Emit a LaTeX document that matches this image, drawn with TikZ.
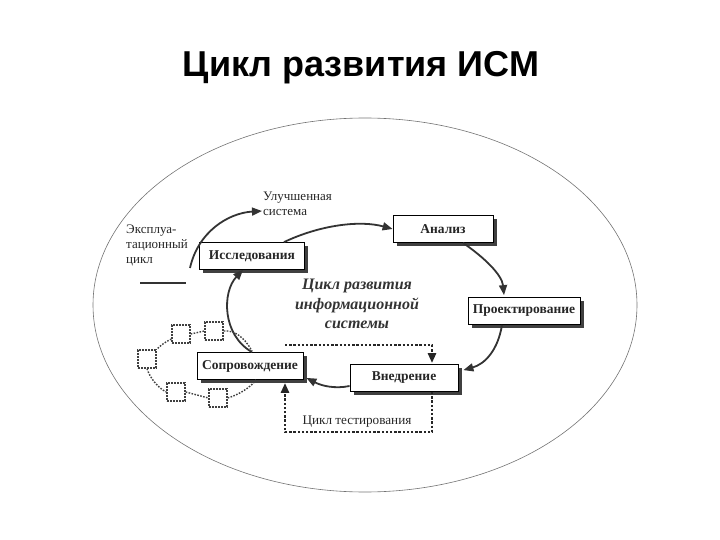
\documentclass[tikz,border=0pt]{standalone}
\usepackage{fontspec}
\setmainfont{Liberation Serif}
\newfontfamily\titlefont{Liberation Sans}
\usetikzlibrary{arrows.meta,shadows,calc}
\begin{document}
\begin{tikzpicture}[x=1pt,y=-1pt,
  stagebox/.style={draw=black,line width=0.8pt,fill=white,minimum height=27pt,
    inner sep=2pt,font=\bfseries\fontsize{13.5}{15}\selectfont,text=black!85,
    drop shadow={shadow xshift=3.5pt,shadow yshift=-3.5pt,fill=black!75,opacity=1}},
  arr/.style={draw=black!80,line width=1.8pt,-{Triangle[length=10pt,width=8pt]}},
  dotarr/.style={draw=black!85,line width=2.6pt,dash pattern=on 2.4pt off 1.8pt,
    -{Triangle[length=10pt,width=8pt]}},
  sq/.style={draw=black!75,line width=1.4pt,dash pattern=on 1.6pt off 1.4pt,
    minimum size=18pt,inner sep=0pt},
  thin dot/.style={draw=black!75,line width=1.4pt,dash pattern=on 1.6pt off 1.4pt},
  small/.style={font=\fontsize{13}{15}\selectfont,text=black!85}
]
\useasboundingbox (0,0) rectangle (720,540);
% title
\node[font=\titlefont\bfseries\fontsize{36}{40}\selectfont] (title) at (361,68) {Цикл развития ИСМ};
% outer ellipse
\draw[black!55,line width=0.6pt] (365,305) ellipse [x radius=272pt,y radius=187pt];
% stages
\node[stagebox,minimum width=105pt] (iss) at (252,256) {Исследования};
\node[stagebox,minimum width=100pt] (an) at (443,229) {Анализ};
\node[stagebox,minimum width=112pt] (pr) at (524,311) {Проектирование};
\node[stagebox,minimum width=108pt] (vn) at (404,378) {Внедрение};
\node[stagebox,minimum width=106pt] (sop) at (250,366) {Сопровождение};
% labels
\node[small,align=left,anchor=west,inner sep=0pt] (ulu) at (263,204) {Улучшенная\\система};
\node[small,align=left,anchor=west,inner sep=0pt] (ekspl) at (126,245) {Эксплуа-\\тационный\\цикл};
\coordinate (l1) at (140,283);
\coordinate (l2) at (186,283);
\draw[black!80,line width=1.6pt] (l1) -- (l2);
\node[font=\bfseries\itshape\fontsize{16}{19.5}\selectfont,align=center,text=black!80] (center) at (357,304)
  {Цикл развития\\информационной\\системы};
\node[font=\fontsize{13.2}{15}\selectfont,text=black!85] (test) at (357,422) {Цикл тестирования};
% main cycle arrows
\coordinate (e1) at (190,268);
\draw[arr] (e1) .. controls (198,232) and (228,213) .. ($(ulu.west)+(-1,7)$);
\draw[arr] ($(iss.north)+(32,0)$) .. controls (320,225) and (360,220) .. (an.west);
\draw[arr] ($(an.south)+(20,0)$) .. controls (485,258) and (502,275) .. ($(pr.north)+(-20,-2)$);
\draw[arr] ($(pr.south)+(-22,0)$) .. controls (498,350) and (485,364) .. ($(vn.north east)+(5,6)$);
\draw[arr] ($(vn.west)+(0,8)$) .. controls (335,389) and (322,386) .. ($(sop.south east)+(3,-2)$);
\draw[arr] ($(sop.north)+(2,0)$) .. controls (222,335) and (222,292) .. ($(iss.south)+(-9,0)$);
% testing cycle
\coordinate (t1) at (285,345);
\coordinate (t2) at (432,432);
\coordinate (t3) at (285,432);
\draw[dotarr] (t1) -- (t1 -| 432,0) -- ($(vn.north -| 432,0)+(0,-1)$);
\draw[dotarr] (vn.south -| 432,0) -- (t2) -- (t3) -- ($(sop.south -| 285,0)+(0,3)$);
% dotted cloud
\node[sq] (s1) at (181,334) {};
\node[sq] (s2) at (214,331) {};
\node[sq] (s3) at (147,359) {};
\node[sq] (s4) at (176,392) {};
\node[sq] (s5) at (218,398) {};
\draw[thin dot] (s1.east) -- (s2.west);
\draw[thin dot] (s2.east) .. controls (235,330) and (245,338) .. ($(sop.north)+(2,-1)$);
\draw[thin dot] ($(s1.west)+(0,5)$) .. controls (165,342) and (160,346) .. (s3.north east);
\draw[thin dot] (s3.south) .. controls (150,378) and (158,388) .. (s4.west);
\draw[thin dot] (s4.east) -- (s5.west);
\draw[thin dot] (s5.east) .. controls (238,395) and (250,388) .. ($(sop.south)+(6,0)$);
\end{tikzpicture}
\end{document}
